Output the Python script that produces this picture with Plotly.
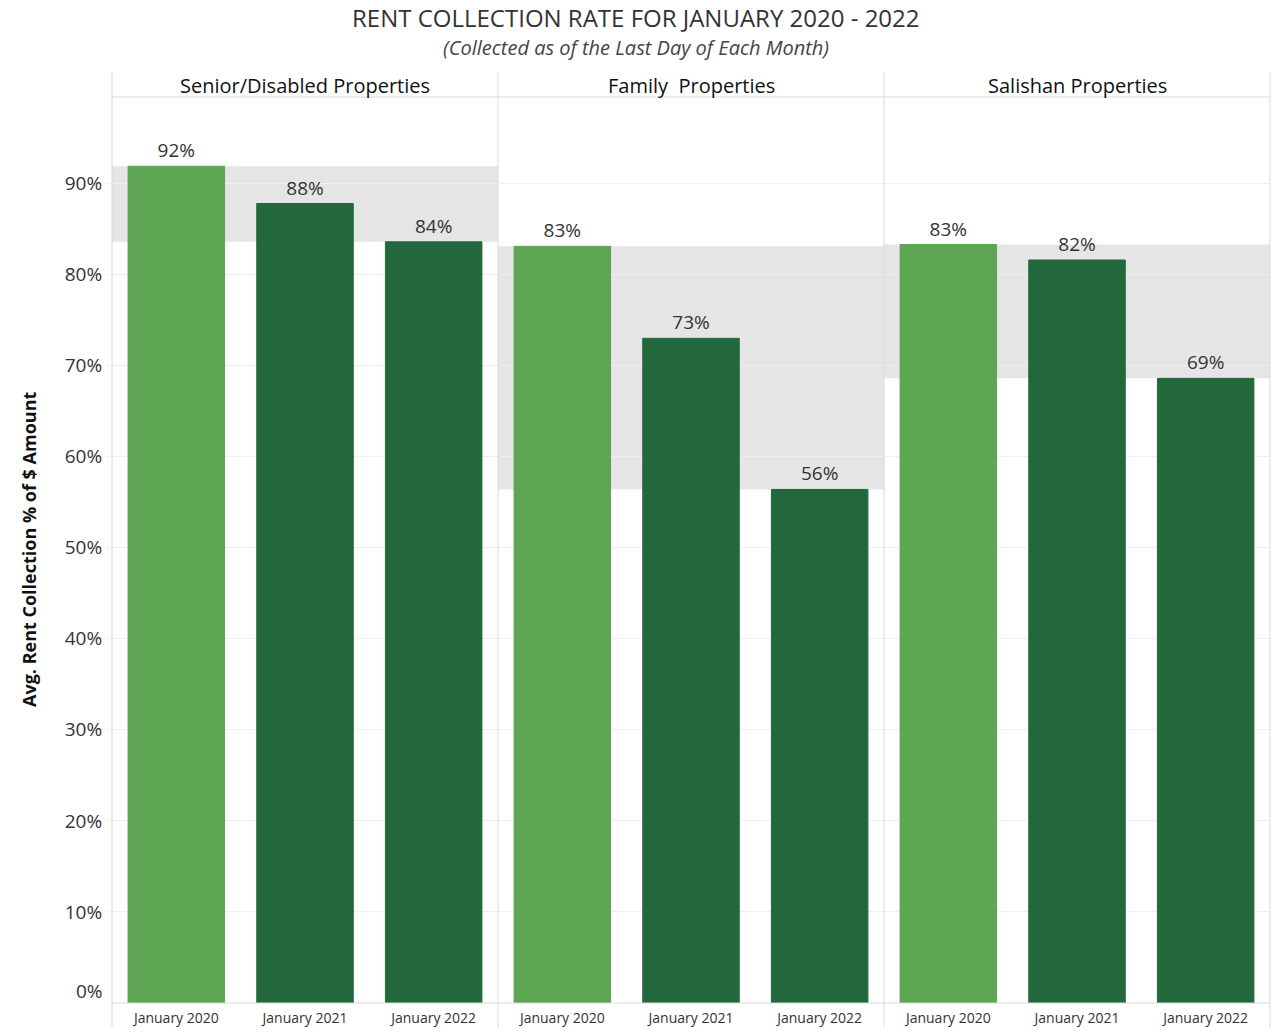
import plotly.graph_objects as go
from plotly.subplots import make_subplots

# Rent collection rates (share of $ amount collected by month end)
groups = ["Senior/Disabled Properties", "Family  Properties", "Salishan Properties"]
months = ["January 2020", "January 2021", "January 2022"]
senior_rates = [0.919, 0.878, 0.836]
family_rates = [0.831, 0.730, 0.564]
salishan_rates = [0.833, 0.816, 0.686]
y_ticks = [0.1, 0.2, 0.3, 0.4, 0.5, 0.6, 0.7, 0.8, 0.9]

LIGHT = "#5ea553"
DARK = "#23683d"
BAND = "#e5e5e5"
RULE = "#d9d9d9"
TXT = "#333333"
FONT = "Open Sans"

series = [senior_rates, family_rates, salishan_rates]
bar_colors = [LIGHT, DARK, DARK]

fig = make_subplots(rows=1, cols=3, shared_yaxes=True, horizontal_spacing=0)

for i, vals in enumerate(series, start=1):
    fig.add_trace(
        go.Bar(
            x=months, y=vals,
            marker=dict(color=bar_colors, line=dict(color=bar_colors, width=1)),
            texttemplate="%{y:.0%}", textposition="outside",
            textfont=dict(size=19, color=TXT, family=FONT),
            cliponaxis=False, showlegend=False, hoverinfo="skip",
        ),
        row=1, col=i,
    )
    xname = "x" if i == 1 else f"x{i}"
    # reference band spanning the min..max of the panel
    fig.add_shape(
        type="rect", xref=f"{xname} domain", yref="y",
        x0=0, x1=1, y0=min(vals), y1=max(vals),
        fillcolor=BAND, line=dict(width=0), layer="below",
    )
    # panel header
    fig.add_annotation(
        text=groups[i - 1], xref=f"{xname} domain", yref="paper",
        x=0.5, y=1, yshift=12, showarrow=False, yanchor="middle",
        font=dict(size=20, color="#111111", family=FONT),
    )

# frame lines: panel dividers through header and label rows
for xp in [0, 1 / 3, 2 / 3, 1]:
    fig.add_shape(type="line", xref="paper", yref="paper",
                  x0=xp, x1=xp, y0=-0.0265, y1=1.0276,
                  line=dict(color=RULE, width=1))
fig.add_shape(type="line", xref="paper", yref="paper", x0=0, x1=1, y0=1, y1=1,
              line=dict(color=RULE, width=1))
fig.add_shape(type="line", xref="paper", yref="paper", x0=0, x1=1, y0=0, y1=0,
              line=dict(color=RULE, width=1))

for i in range(1, 4):
    fig.update_xaxes(
        row=1, col=i, showgrid=False, zeroline=False, showline=False,
        tickfont=dict(size=14, color=TXT, family=FONT), ticks="",
        ticklabelstandoff=5,
    )

fig.update_yaxes(
    range=[0, 0.995], tickvals=y_ticks, tickformat=".0%",
    showgrid=True, gridcolor="#efefef", gridwidth=1, zeroline=False,
    showline=False, ticks="outside", ticklen=5, tickcolor="#efefef",
    tickfont=dict(size=19, color=TXT, family=FONT),
)

# zero label sits slightly above the baseline
fig.add_annotation(text="0%", xref="paper", yref="y", x=0, y=0, xshift=-7,
                   yshift=12, xanchor="right", yanchor="middle", showarrow=False,
                   font=dict(size=19, color=TXT, family=FONT))

# y-axis title
fig.add_annotation(text="<b>Avg. Rent Collection % of $ Amount</b>", xref="paper",
                   yref="paper", x=0, y=0.5, xshift=-69, textangle=-90,
                   xanchor="right", showarrow=False,
                   font=dict(size=18, color="#111111", family=FONT))

# titles, centred on the full page width
fig.add_annotation(text="RENT COLLECTION RATE FOR JANUARY 2020 - 2022", xref="paper",
                   yref="paper", x=0.4525, y=1, yshift=80, xanchor="center",
                   yanchor="middle", showarrow=False,
                   font=dict(size=24, color=TXT, family=FONT))
fig.add_annotation(text="<i>(Collected as of the Last Day of Each Month)</i>",
                   xref="paper", yref="paper", x=0.4525, y=1, yshift=50,
                   xanchor="center", yanchor="middle", showarrow=False,
                   font=dict(size=20, color="#444444", family=FONT))

fig.update_layout(
    width=1272, height=1034,
    margin=dict(l=112, r=2, t=97, b=31),
    paper_bgcolor="white", plot_bgcolor="white",
    bargap=0.25, font=dict(family=FONT, color=TXT),
)

fig.write_html("out.html")
